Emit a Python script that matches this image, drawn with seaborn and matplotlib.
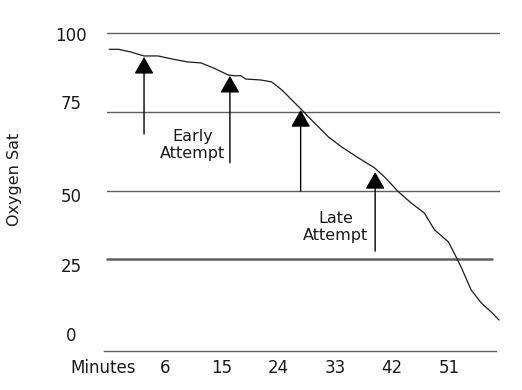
import pandas as pd
import matplotlib
matplotlib.use("Agg")
import matplotlib.pyplot as plt
import seaborn as sns


# ── Data ─────────────────────────────────────────────────────────────────────
minutes = [-2.8, -1.3, 0.5, 2.7, 4.9, 7.0, 9.6, 11.7, 13.7, 16.0, 17.2, 18.0,
           18.8, 21.2, 22.9, 24.5, 26.1, 27.7, 29.2, 31.9, 34.0, 36.7, 39.2,
           40.8, 43.0, 45.0, 47.1, 48.7, 50.9, 51.8, 52.9, 54.5, 56.1, 57.7, 58.9]
oxygen_sat = [94.8, 94.8, 94.0, 92.7, 92.7, 91.8, 90.8, 90.5, 88.9, 86.7, 86.4,
              86.5, 85.4, 85.1, 84.5, 82.0, 78.8, 75.6, 72.5, 67.1, 63.9, 60.4,
              57.3, 54.4, 49.7, 46.2, 43.0, 37.7, 33.9, 30.4, 26.0, 18.7, 14.6,
              11.7, 9.2]

arrow_minutes = [2.7, 16.3, 27.5, 39.3]
arrow_tip = [92.4, 86.4, 75.6, 56.0]
arrow_tail = [68.0, 58.9, 50.0, 31.0]

note_labels = ["Early\nAttempt", "Late\nAttempt"]
note_minutes = [10.4, 33.0]
note_sat = [64.6, 38.6]

x_ticks = [6, 15, 24, 33, 42, 51]
y_labels = ["0", "25", "50", "75", "100"]

df = pd.DataFrame({"Minutes": minutes, "Oxygen Sat": oxygen_sat})

# ── Figure ────────────────────────────────────────────────────────────────────
sns.set_style("white")
plt.rcParams["font.family"] = ["DejaVu Sans"]

fig = plt.figure(figsize=(5.22, 3.9), dpi=100)
ax = fig.add_axes([0.1973, 0.1, 0.7607, 0.836])

GRID = "#5e5e5e"
for level in [100, 75, 50]:
    ax.axhline(level, xmin=0.01, xmax=1.0, color=GRID, lw=1.0, zorder=1)
ax.axhline(28.6, xmin=0.01, xmax=0.98, color=GRID, lw=1.8, zorder=1)

sns.lineplot(data=df, x="Minutes", y="Oxygen Sat", ax=ax, color="#1a1a1a",
             lw=0.9, zorder=3)

for xm, tip, tail in zip(arrow_minutes, arrow_tip, arrow_tail):
    ax.annotate("", xy=(xm, tip), xytext=(xm, tail),
                arrowprops=dict(arrowstyle="-|>,head_length=1.05,head_width=0.6",
                                mutation_scale=10, color="black", lw=1.0,
                                shrinkA=0, shrinkB=0),
                zorder=4)

for label, xm, ys in zip(note_labels, note_minutes, note_sat):
    ax.text(xm, ys, label, ha="center", va="center", fontsize=11.5,
            color="#1a1a1a")

ax.set_xlim(-3.63, 59.08)
ax.set_ylim(-0.6, 102.5)

ax.set_xticks([-3.8] + x_ticks)
ax.set_xticklabels(["Minutes"] + [str(t) for t in x_ticks])
ax.set_yticks([4.7, 26.7, 48.7, 78.0, 99.7])
ax.set_yticklabels(y_labels)
plt.setp(ax.get_yticklabels(), ha="center")
ax.tick_params(axis="y", length=0, pad=23, labelsize=12, colors="#1a1a1a")
ax.tick_params(axis="x", length=0, pad=6, labelsize=12, colors="#1a1a1a")
ax.set_xlabel("")
ax.set_ylabel("")

for side in ["top", "right", "left"]:
    ax.spines[side].set_visible(False)
ax.spines["bottom"].set_color(GRID)
ax.spines["bottom"].set_linewidth(1.0)
ax.spines["bottom"].set_bounds(-3.63, 58.45)

fig.text(15 / 522, 1 - 179 / 390, "Oxygen Sat", rotation=90, ha="center",
         va="center", fontsize=11.5, color="#1a1a1a")

fig.savefig("out.png", dpi=100)
